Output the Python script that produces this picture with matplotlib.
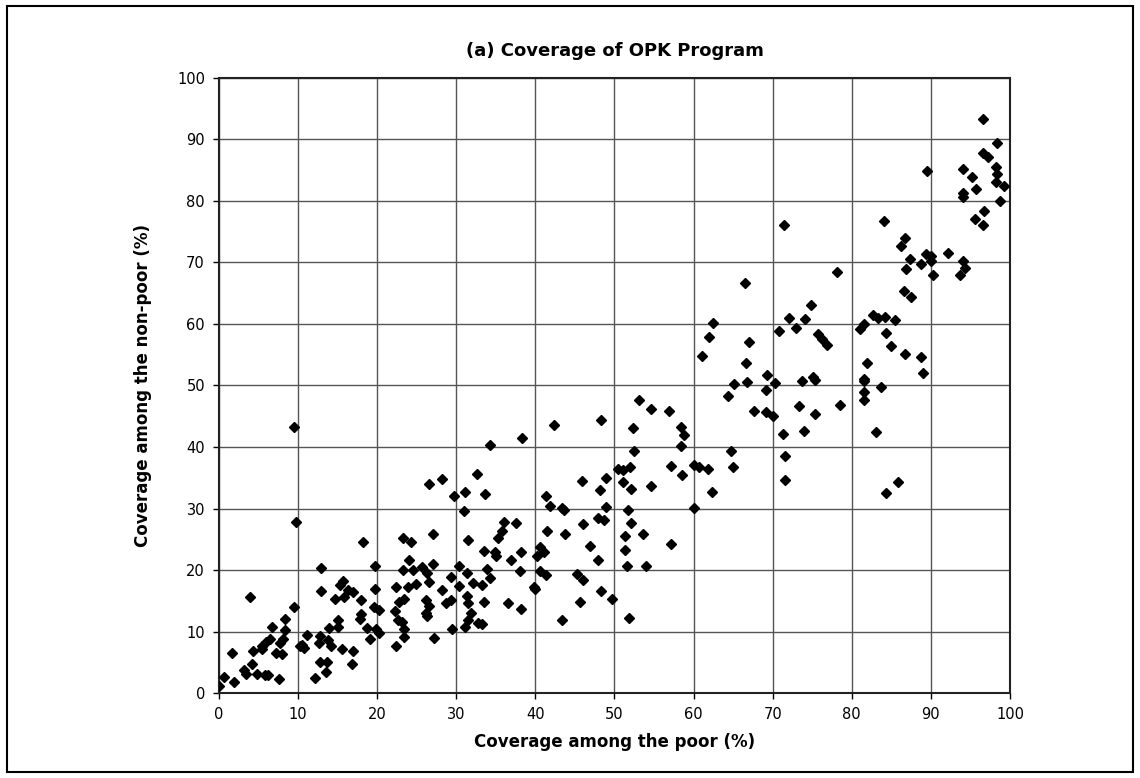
import matplotlib
matplotlib.use("Agg")
import matplotlib.pyplot as plt
from matplotlib.patches import Rectangle

# coverage among the poor (%)
poor = [
    9.5, 9.7, 32.6, 26.5, 28.2, 29.7, 31.1, 31.0, 31.5, 27.1, 23.3, 24.3, 18.2, 24.0,
    23.3, 24.5, 25.7, 26.3, 27.1, 26.5, 24.9, 23.9, 22.4, 23.4, 22.8, 22.3, 22.6, 23.2,
    23.4, 23.4, 22.4, 26.2, 26.6, 26.2, 26.3, 27.2, 28.2, 28.7, 29.3, 29.5, 30.3, 29.4,
    30.3, 31.3, 31.3, 31.5, 31.9, 31.5, 31.1, 32.1, 32.8, 19.7, 19.7, 19.6, 20.3, 19.8,
    20.2, 19.1, 18.7, 18.0, 17.9, 18.0, 17.0, 16.3, 15.7, 15.3, 15.8, 14.7, 12.9, 12.9,
    15.0, 15.0, 13.9, 12.8, 12.7, 13.8, 14.2, 15.5, 16.9, 16.8, 13.7, 12.8, 13.5, 12.1,
    11.2, 10.5, 10.8, 10.2, 9.5, 8.3, 8.3, 8.1, 7.7, 7.2, 8.0, 7.6, 6.7, 6.4,
    5.9, 5.5, 5.5, 4.3, 4.2, 3.2, 3.4, 4.8, 6.2, 5.8, 3.9, 1.7, 0.7, 1.9,
    0.0,
    65.1, 64.3, 53.1, 54.6, 56.9, 48.3, 42.4, 38.3, 34.3, 52.4, 58.4, 58.8, 58.4, 52.5,
    64.7, 65.0, 33.6, 57.1, 58.6, 60.0, 60.7, 61.8, 62.3, 60.1, 50.4, 51.1, 52.0, 51.1,
    52.1, 54.6, 48.9, 45.9, 48.2, 41.3, 41.8, 43.4, 43.6, 48.9, 51.7, 46.0, 47.9, 48.7,
    52.1, 53.6, 51.3, 57.2, 51.3, 51.6, 54.0, 46.9, 47.9, 41.5, 43.8, 36.1, 37.5, 35.8,
    35.3, 33.5, 34.9, 35.0, 36.9, 38.2, 40.6, 41.1, 40.2, 33.9, 34.3, 33.3, 38.0, 40.6,
    41.3, 39.8, 39.9, 45.3, 46.0, 45.7, 48.3, 49.7, 43.4, 51.8, 33.5, 36.5, 38.2, 33.3,
    66.8, 69.2, 70.3, 73.7, 75.3, 81.5, 83.7, 81.5, 81.5, 67.6, 69.2, 70.0, 73.3, 75.4,
    78.5, 71.3, 73.9, 83.0, 71.5, 71.5, 85.9, 84.3,
    96.6, 98.4, 96.6, 97.2, 89.5, 94.1, 95.2, 98.2, 98.3, 98.2, 99.2, 95.7, 94.0, 94.0,
    98.7, 96.7, 95.6, 96.6, 71.4, 84.1, 86.7, 86.2, 87.3, 86.9, 88.8, 89.4, 90.0, 90.0,
    90.3, 92.2, 94.1, 94.3, 93.7, 78.1, 66.5, 86.6, 87.5, 74.9, 72.1, 74.1, 72.9, 70.8,
    75.7, 76.2, 76.9, 82.7, 83.3, 84.2, 85.5, 81.6, 81.0, 84.3, 84.9, 86.7, 88.7, 89.0,
    81.9, 81.5, 67.0, 66.6, 69.3, 75.1, 62.4, 62.0, 61.1,
]

# coverage among the non-poor (%)
non_poor = [
    43.3, 27.9, 35.7, 34.0, 34.8, 32.1, 32.7, 29.6, 24.9, 25.8, 25.2, 24.6, 24.5, 21.7,
    20.0, 20.0, 20.5, 19.5, 21.0, 18.0, 17.7, 17.2, 17.2, 15.3, 14.9, 13.4, 11.9, 11.6,
    10.4, 9.1, 7.7, 15.2, 14.2, 13.0, 12.6, 9.0, 16.7, 14.7, 15.1, 10.5, 20.7, 18.9,
    17.4, 19.5, 15.8, 14.7, 13.0, 11.9, 10.7, 17.9, 11.4, 20.7, 16.9, 14.0, 13.5, 10.4,
    9.8, 8.8, 10.6, 12.9, 12.0, 15.1, 16.4, 16.7, 18.2, 17.6, 15.6, 15.3, 20.3, 16.6,
    11.9, 10.7, 10.6, 9.3, 8.1, 8.6, 7.7, 7.2, 6.9, 4.8, 5.1, 5.1, 3.5, 2.4,
    9.4, 7.9, 7.3, 7.6, 14.0, 12.1, 10.2, 8.8, 8.1, 6.6, 6.4, 2.3, 10.8, 8.8,
    8.4, 7.6, 7.2, 6.9, 4.8, 3.8, 3.1, 3.1, 3.0, 3.0, 15.6, 6.6, 2.7, 1.8,
    1.2,
    50.3, 48.3, 47.6, 46.2, 45.9, 44.4, 43.5, 41.4, 40.4, 43.1, 43.3, 42.0, 40.1, 39.4,
    39.4, 36.7, 32.4, 36.9, 35.5, 37.1, 36.7, 36.4, 32.7, 30.1, 36.4, 36.2, 36.8, 34.3,
    33.2, 33.6, 34.9, 34.5, 33.0, 32.1, 30.4, 30.1, 29.7, 30.2, 29.8, 27.5, 28.4, 28.1,
    27.6, 25.8, 25.5, 24.2, 23.3, 20.6, 20.7, 23.9, 21.6, 26.4, 25.8, 27.9, 27.7, 26.3,
    25.2, 23.1, 23.0, 22.3, 21.7, 22.9, 23.8, 22.9, 22.3, 20.2, 18.7, 17.6, 19.9, 19.9,
    19.2, 17.3, 17.0, 19.4, 18.4, 14.9, 16.6, 15.3, 11.9, 12.2, 14.9, 14.6, 13.7, 11.2,
    50.5, 49.2, 50.4, 50.8, 50.9, 50.8, 49.7, 48.9, 47.6, 45.8, 45.7, 45.1, 46.7, 45.3,
    46.9, 42.1, 42.6, 42.4, 38.5, 34.6, 34.4, 32.6,
    93.3, 89.4, 87.8, 87.1, 84.9, 85.1, 83.8, 85.5, 84.4, 83.0, 82.4, 82.0, 81.3, 80.6,
    80.0, 78.3, 77.0, 76.1, 76.0, 76.8, 73.9, 72.7, 70.6, 69.0, 69.7, 71.3, 71.1, 70.2,
    67.9, 71.6, 70.2, 69.1, 67.9, 68.5, 66.6, 65.3, 64.4, 63.0, 61.0, 60.8, 59.4, 58.9,
    58.4, 57.5, 56.5, 61.5, 60.9, 61.2, 60.7, 60.0, 59.1, 58.5, 56.4, 55.1, 54.6, 52.0,
    53.6, 51.0, 57.1, 53.7, 51.7, 51.4, 60.1, 57.8, 54.8,
]

ticks = list(range(0, 101, 10))

plt.rcParams['font.family'] = ['DejaVu Sans']

fig = plt.figure(figsize=(11.4, 7.78), dpi=100)
ax = fig.add_axes([0.192, 0.109, 0.694, 0.791])

ax.plot(poor, non_poor, linestyle='none', marker='D', markersize=4.6,
        color='black', zorder=3)

ax.set_xlim(0, 100)
ax.set_ylim(0, 100)
ax.set_xticks(ticks)
ax.set_yticks(ticks)
ax.grid(True, color='#555555', linewidth=1.0)
ax.set_axisbelow(True)
ax.tick_params(direction='out', length=4, width=1, labelsize=10.5, pad=6)
for s in ax.spines.values():
    s.set_linewidth(1.5)
    s.set_color('#222222')

ax.set_xlabel('Coverage among the poor (%)', fontsize=12, fontweight='bold', labelpad=8)
ax.set_ylabel('Coverage among the non-poor (%)', fontsize=12, fontweight='bold', labelpad=18)
fig.text(0.539, 0.935, '(a) Coverage of OPK Program', ha='center', va='center',
         fontsize=13, fontweight='bold')

fig.patches.append(Rectangle((0.006, 0.008), 0.988, 0.984, transform=fig.transFigure,
                             fill=False, edgecolor='black', linewidth=1.5))

fig.savefig('out.png', dpi=100)
